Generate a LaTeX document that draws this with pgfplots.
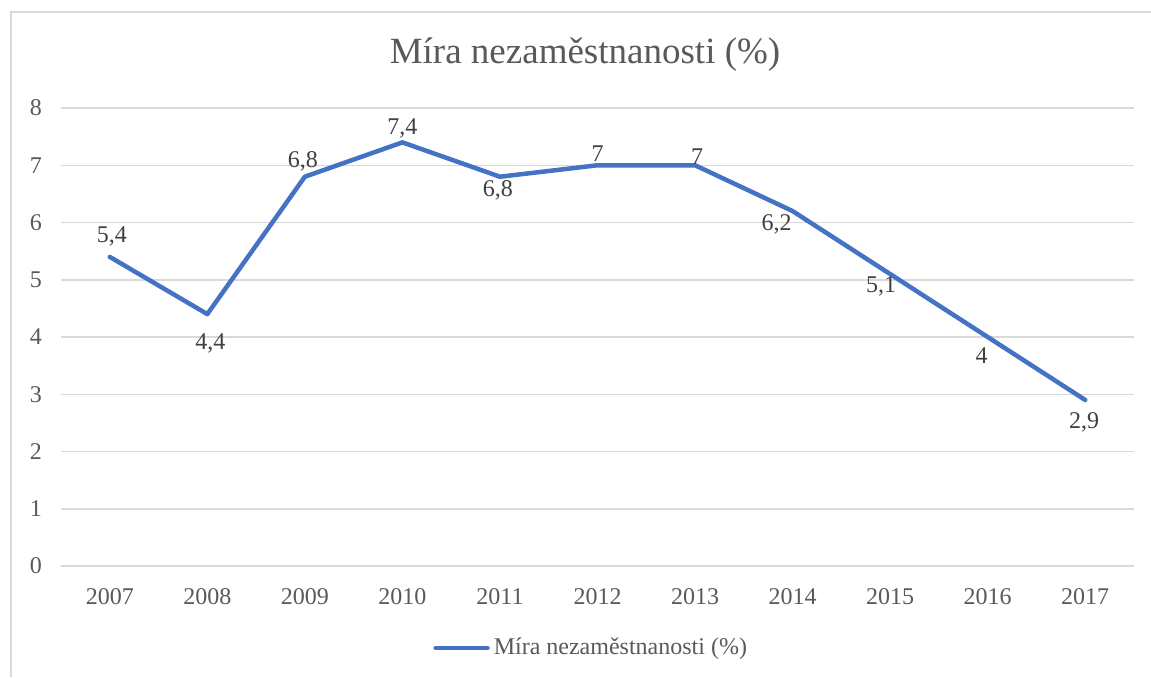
\documentclass[border=0pt]{standalone}
\usepackage{fontspec}
\setmainfont{Liberation Serif}
\usepackage{pgfplots}
\usepackage{pgfplotstable}
\pgfplotsset{compat=1.18}
\definecolor{lineblue}{HTML}{4472C4}
\definecolor{txt}{HTML}{595959}
\definecolor{txtdark}{HTML}{404040}
\definecolor{gridc}{HTML}{D9D9D9}
\pgfplotstableread{
x y lab dx dy
0 5.4 5,4 1 11
1 4.4 4,4 1.5 -13.5
2 6.8 6,8 -1 8.5
3 7.4 7,4 0 8
4 6.8 6,8 -1 -6
5 7.0 7 0 6
6 7.0 7 1 4.5
7 6.2 6,2 -8 -5.5
8 5.1 5,1 -4.5 -5
9 4.0 4 -3 -9
10 2.9 2,9 -0.5 -10.5
}\data
\begin{document}
\begin{tikzpicture}
\path[use as bounding box] (0,0) rectangle (575.5pt,338.5pt);
\draw[gridc, line width=0.75pt] (5.5pt,0) -- (5.5pt,332.5pt) -- (575.5pt,332.5pt);
\node[font=\fontsize{18.5}{22}\selectfont, text=txt] at (292.5pt,311pt) {Míra nezaměstnanosti (\%)};
\begin{axis}[
  at={(30.5pt,55.5pt)}, anchor=south west,
  scale only axis, width=536.5pt, height=229pt,
  xmin=-0.5, xmax=10.5, ymin=0, ymax=8,
  xtick={0,...,10},
  xticklabels={2007,2008,2009,2010,2011,2012,2013,2014,2015,2016,2017},
  ytick={0,...,8},
  ymajorgrids, grid style={gridc, line width=0.75pt},
  axis line style={draw=none},
  major tick style={draw=none},
  tick label style={font=\fontsize{12}{14}\selectfont, text=txt},
  xticklabel style={yshift=-7.5pt},
  yticklabel style={xshift=-6pt},
  /pgf/number format/assume math mode=true,
  clip=false,
  legend style={at={(0.495,-0.179)}, anchor=center, draw=none, fill=none,
    font=\fontsize{12}{14}\selectfont, text=txt},
  legend image code/.code={\draw[#1, line width=2.25pt, line cap=round] (0pt,0pt) -- (26pt,0pt);},
]
\addplot[lineblue, line width=2.25pt, line join=round, line cap=round] table[x=x,y=y]{\data};
\addlegendentry{Míra nezaměstnanosti (\%)}
\addplot[draw=none, forget plot, nodes near coords, point meta=explicit symbolic,
  visualization depends on={\thisrow{dx} \as \dx},
  visualization depends on={\thisrow{dy} \as \dy},
  nodes near coords style={anchor=base, xshift=\dx pt, yshift=\dy pt-4pt,
    font=\fontsize{12}{14}\selectfont, text=txtdark}]
  table[x=x,y=y,meta=lab]{\data};
\end{axis}
\end{tikzpicture}
\end{document}
